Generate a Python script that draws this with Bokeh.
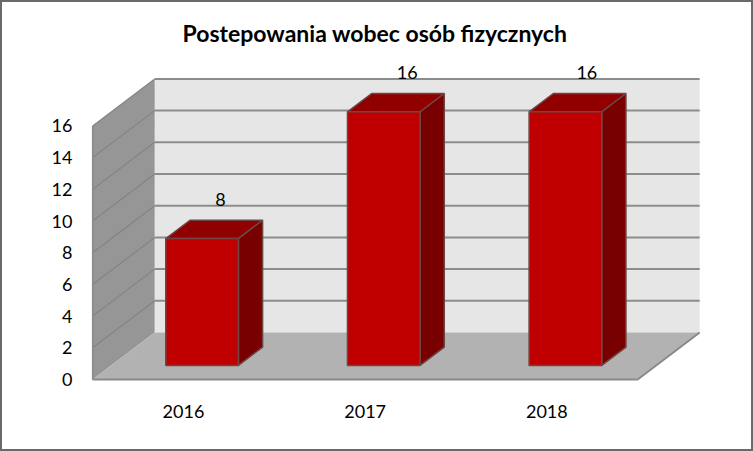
from bokeh.plotting import figure
from bokeh.models import ColumnDataSource, FixedTicker, Range1d, Title
from bokeh.core.properties import value
from bokeh.embed import file_html
from bokeh.resources import INLINE

# data
years = [2016, 2017, 2018]
counts = [8, 16, 16]
tick_values = [0, 2, 4, 6, 8, 10, 12, 14, 16]
title_text = "Postepowania wobec osób  fizycznych"

# oblique projection (data units per full depth)
DX = 0.3413
DY = 2.965
X0, X1 = 2015.5, 2018.5
TOP = 16
HALF = 0.2
D0, D1 = 0.30, 0.69
label_dx = [6, 11, 9]


def P(x, v, d=0.0):
    return x + d * DX, v + d * DY


def poly(*pts):
    return [p[0] for p in pts], [p[1] for p in pts]


W, H, B = 753, 451, 2
PX_X, PX_Y = 181.67, 15.85
FL, FR, FT, FB = 86, 748, 50, 386

p = figure(width=W, height=H, output_backend="svg", toolbar_location=None,
           x_range=Range1d(2016 - (183 - FL) / PX_X, 2016 + (FR - 183) / PX_X),
           y_range=Range1d(-(FB - 379) / PX_Y, (379 - FT) / PX_Y),
           min_border_left=FL - B, min_border_right=W - FR + B, min_border_top=FT - B, min_border_bottom=H - FB + B,
           background_fill_color="white", border_fill_color="white", outline_line_color=None)
p.styles = {"position": "absolute", "left": "0px", "top": "0px", "border": f"{B}px solid #6a6a6a"}
p.title = None
p.add_layout(Title(text=title_text, text_font="Lato", text_font_style="bold", text_font_size="23px",
                   text_color="#000000", align="left", offset=98 - B, standoff=8), "above")
p.grid.visible = False

# walls and floor
xs, ys = poly(P(X0, 0, 1), P(X1, 0, 1), P(X1, TOP, 1), P(X0, TOP, 1))
p.patch(xs, ys, fill_color="#e6e6e6", line_color=None)
xs, ys = poly(P(X0, 0), P(X0, 0, 1), P(X0, TOP, 1), P(X0, TOP))
p.patch(xs, ys, fill_color="#969696", line_color=None)
xs, ys = poly(P(X0, 0), P(X1, 0), P(X1, 0, 1), P(X0, 0, 1))
p.patch(xs, ys, fill_color="#b2b2b2", line_color=None)

# gridlines
gx, gy, wx, wy = [], [], [], []
for t in tick_values[1:]:
    a, b = P(X0, t, 1), P(X1, t, 1)
    gx.append([a[0], b[0]]); gy.append([a[1], b[1]])
    c = P(X0, t)
    wx.append([c[0], a[0]]); wy.append([c[1], a[1]])
p.multi_line(gx, gy, line_color="#8c8c8c", line_width=2)
p.multi_line(wx, wy, line_color="#848484", line_width=1.2)

# floor edges
a, b, c = P(X0, 0), P(X1, 0), P(X1, 0, 1)
p.line([a[0], b[0], c[0]], [a[1], b[1], c[1]], line_color="#8a8a8a", line_width=2)
t0 = P(X0, TOP)
p.line([a[0], t0[0]], [a[1], t0[1]], line_color="#8a8a8a", line_width=1.5)

# bars
EDGE = "#6e4646"
for yr, v in zip(years, counts):
    l, r = yr - HALF, yr + HALF
    xs, ys = poly(P(l, v, D0), P(r, v, D0), P(r, v, D1), P(l, v, D1))
    p.patch(xs, ys, fill_color="#900000", line_color=EDGE, line_width=1.5)
    xs, ys = poly(P(r, 0, D0), P(r, 0, D1), P(r, v, D1), P(r, v, D0))
    p.patch(xs, ys, fill_color="#780000", line_color=EDGE, line_width=1.5)
    xs, ys = poly(P(l, 0, D0), P(r, 0, D0), P(r, v, D0), P(l, v, D0))
    p.patch(xs, ys, fill_color="#c00000", line_color=EDGE, line_width=1.5)

# value labels
src = ColumnDataSource(dict(
    x=[P(y, 0, 0.5)[0] for y in years],
    y=[P(y, v, 0.5)[1] for y, v in zip(years, counts)],
    t=[str(v) for v in counts],
    dx=label_dx,
))
p.text("x", "y", text="t", source=src, x_offset="dx", y_offset=-30, text_align="center",
       text_baseline="middle", text_font=value("Lato"), text_font_size="18px", text_color="#000000")

# axes
for ax, ticks, sd in ((p.yaxis[0], tick_values, 8), (p.xaxis[0], years, 12)):
    ax.ticker = FixedTicker(ticks=ticks)
    ax.axis_line_color = None
    ax.major_tick_line_color = None
    ax.minor_tick_line_color = None
    ax.major_label_text_font = "Lato"
    ax.major_label_text_font_size = "18px"
    ax.major_label_text_color = "#000000"
    ax.major_label_standoff = sd

open("out.html", "w").write(file_html(p, INLINE))
